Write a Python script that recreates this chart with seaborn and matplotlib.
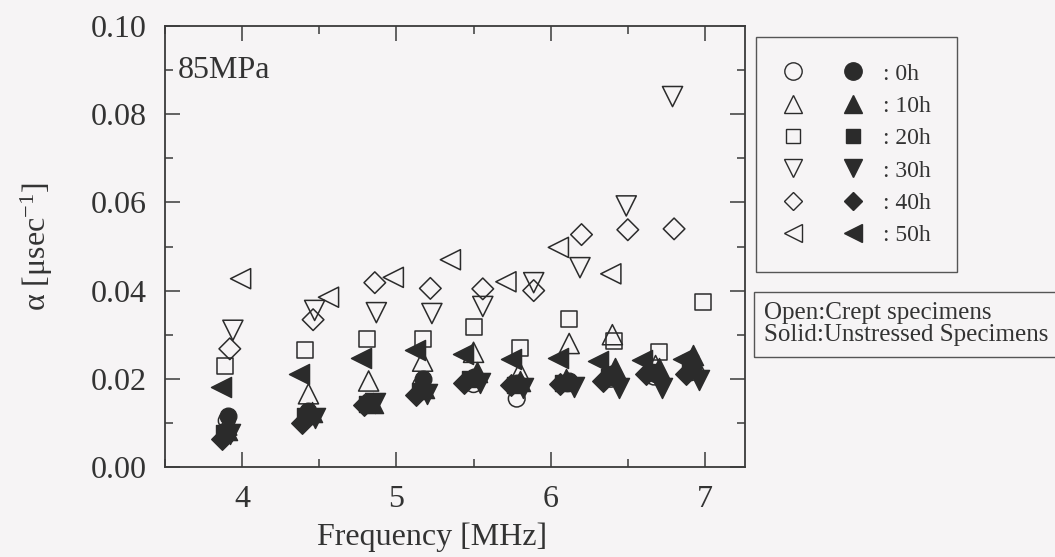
import matplotlib
matplotlib.use("Agg")
import matplotlib.pyplot as plt
import seaborn as sns
from matplotlib.lines import Line2D
from matplotlib.legend_handler import HandlerTuple
from matplotlib.ticker import MultipleLocator, FormatStrFormatter

# ---- data: frequency [MHz] and attenuation alpha [1/usec] -----------------
# Crept specimens (open symbols)
crept_0h_f = [3.90, 4.42, 4.82, 5.16, 5.50, 5.78, 6.11, 6.39, 6.67, 6.91]
crept_0h_a = [0.0105, 0.0120, 0.0145, 0.0185, 0.0188, 0.0155, 0.0190, 0.0200, 0.0205, 0.0215]
crept_10h_f = [3.90, 4.43, 4.82, 5.17, 5.50, 5.80, 6.12, 6.40, 6.68, 6.93]
crept_10h_a = [0.0095, 0.0166, 0.0195, 0.0240, 0.0260, 0.0215, 0.0280, 0.0300, 0.0230, 0.0240]
crept_20h_f = [3.89, 4.41, 4.81, 5.17, 5.50, 5.80, 6.12, 6.41, 6.70, 6.99]
crept_20h_a = [0.0230, 0.0266, 0.0290, 0.0290, 0.0318, 0.0270, 0.0336, 0.0286, 0.0260, 0.0375]
crept_30h_f = [3.94, 4.47, 4.87, 5.23, 5.56, 5.89, 6.19, 6.49, 6.79]
crept_30h_a = [0.0310, 0.0355, 0.0350, 0.0348, 0.0364, 0.0418, 0.0452, 0.0592, 0.0840]
crept_40h_f = [3.92, 4.46, 4.86, 5.22, 5.56, 5.89, 6.20, 6.50, 6.80]
crept_40h_a = [0.0268, 0.0334, 0.0418, 0.0405, 0.0404, 0.0400, 0.0527, 0.0538, 0.0540]
crept_50h_f = [3.99, 4.56, 4.98, 5.35, 5.71, 6.05, 6.39]
crept_50h_a = [0.0427, 0.0385, 0.0430, 0.0470, 0.0420, 0.0498, 0.0438]

# Unstressed specimens (solid symbols)
ref_0h_f = [3.91, 4.43, 4.83, 5.17, 5.50, 5.78, 6.12, 6.40, 6.68, 6.92]
ref_0h_a = [0.0116, 0.0128, 0.0148, 0.0200, 0.0205, 0.0190, 0.0195, 0.0210, 0.0210, 0.0222]
ref_10h_f = [3.90, 4.45, 4.85, 5.18, 5.52, 5.80, 6.10, 6.42, 6.70, 6.92]
ref_10h_a = [0.0085, 0.0125, 0.0145, 0.0180, 0.0215, 0.0195, 0.0200, 0.0225, 0.0225, 0.0255]
ref_20h_f = [3.88, 4.41, 4.81, 5.15, 5.48, 5.77, 6.08, 6.38, 6.66, 6.90]
ref_20h_a = [0.0078, 0.0115, 0.0142, 0.0172, 0.0200, 0.0185, 0.0190, 0.0205, 0.0215, 0.0235]
ref_30h_f = [3.92, 4.47, 4.86, 5.20, 5.54, 5.82, 6.15, 6.44, 6.72, 6.96]
ref_30h_a = [0.0075, 0.0112, 0.0145, 0.0165, 0.0190, 0.0178, 0.0182, 0.0180, 0.0180, 0.0198]
ref_40h_f = [3.87, 4.39, 4.79, 5.13, 5.44, 5.74, 6.06, 6.34, 6.62, 6.88]
ref_40h_a = [0.0064, 0.0100, 0.0140, 0.0163, 0.0190, 0.0185, 0.0188, 0.0195, 0.0210, 0.0212]
ref_50h_f = [3.86, 4.37, 4.77, 5.12, 5.43, 5.74, 6.05, 6.31, 6.59, 6.86]
ref_50h_a = [0.0182, 0.0211, 0.0248, 0.0266, 0.0257, 0.0245, 0.0248, 0.0240, 0.0243, 0.0245]

hours = ["0h", "10h", "20h", "30h", "40h", "50h"]
x_ticks = [4, 5, 6, 7]

# ---- styling ---------------------------------------------------------------
BG = "#f6f4f5"
INK = "#2b2b2b"
AXC = "#3a3a3a"
TXT = "#333333"
markers = ["o", "^", "s", "v", "D", "<"]
plot_ms = {"o": 12.0, "^": 14.5, "v": 14.5, "<": 14.5, "s": 11.5, "D": 11.0}
leg_ms = {"o": 12.5, "^": 13.0, "v": 13.0, "<": 13.0, "s": 9.5, "D": 9.5}

sns.set_style("ticks")
plt.rcParams["font.family"] = ["Liberation Serif", "DejaVu Serif"]
plt.rcParams["mathtext.fontset"] = "custom"
plt.rcParams["mathtext.rm"] = "Liberation Serif"
plt.rcParams["mathtext.it"] = "Liberation Serif:italic"

fig = plt.figure(figsize=(10.55, 5.57), dpi=100, facecolor=BG)
ax = fig.add_axes([0.1564, 0.1616, 0.5498, 0.7917])
ax.set_facecolor(BG)

crept = [(crept_0h_f, crept_0h_a), (crept_10h_f, crept_10h_a), (crept_20h_f, crept_20h_a),
         (crept_30h_f, crept_30h_a), (crept_40h_f, crept_40h_a), (crept_50h_f, crept_50h_a)]
unstressed = [(ref_0h_f, ref_0h_a), (ref_10h_f, ref_10h_a), (ref_20h_f, ref_20h_a),
              (ref_30h_f, ref_30h_a), (ref_40h_f, ref_40h_a), (ref_50h_f, ref_50h_a)]

# open symbols first, solid symbols drawn over them
for (f, a), m in zip(crept, markers):
    sns.scatterplot(x=f, y=a, ax=ax, marker=m, s=plot_ms[m] ** 2,
                    facecolors="none", edgecolor=INK, linewidth=1.1,
                    zorder=3, legend=False)
for (f, a), m in zip(unstressed, markers):
    sns.scatterplot(x=f, y=a, ax=ax, marker=m, s=plot_ms[m] ** 2,
                    color=INK, edgecolor=INK, linewidth=1.0,
                    zorder=4, legend=False)

ax.set_xlim(3.5, 7.26)
ax.set_ylim(0.0, 0.10)
ax.set_xticks(x_ticks)
ax.xaxis.set_minor_locator(MultipleLocator(0.5))
ax.yaxis.set_major_locator(MultipleLocator(0.02))
ax.yaxis.set_minor_locator(MultipleLocator(0.01))
ax.yaxis.set_major_formatter(FormatStrFormatter("%.2f"))

for sp in ax.spines.values():
    sp.set_visible(True)
    sp.set_color(AXC)
    sp.set_linewidth(1.3)

ax.tick_params(which="both", direction="in", top=True, right=True,
               color=AXC, labelcolor=TXT, labelsize=23)
ax.tick_params(which="major", length=11, width=1.1, pad=13)
ax.tick_params(which="minor", length=6, width=1.1)

ax.set_xlabel("Frequency [MHz]", fontsize=23, color=TXT)
ax.set_ylabel(r"α [μsec$^{-1}$]", fontsize=23, color=TXT)
ax.xaxis.set_label_coords(0.46, -0.125)
ax.yaxis.set_label_coords(-0.19, 0.5)

ax.text(0.022, 0.09, "85MPa", transform=ax.get_yaxis_transform(),
        fontsize=23, color=TXT, ha="left", va="center")

# symbol key: open / solid pairs
handles = []
for m in markers:
    o = Line2D([], [], ls="none", marker=m, ms=leg_ms[m], mfc="none", mec=INK, mew=1.0)
    s = Line2D([], [], ls="none", marker=m, ms=leg_ms[m], mfc=INK, mec=INK, mew=1.0)
    handles.append((o, s))
leg = ax.legend(handles, [": " + h for h in hours],
                handler_map={tuple: HandlerTuple(ndivide=None, pad=1.61)},
                loc="upper left", bbox_to_anchor=(756 / 1055, 1 - 37 / 557),
                bbox_transform=fig.transFigure, frameon=True, fancybox=False,
                edgecolor="#555555", facecolor=BG, framealpha=1,
                handlelength=3.47, handletextpad=0.8, labelspacing=0.46,
                borderpad=1.1, borderaxespad=0, fontsize=17)
leg.get_frame().set_linewidth(1.0)
for t in leg.get_texts():
    t.set_color(TXT)

fig.text(764 / 1055, 1 - 324 / 557, "Open:Crept specimens\nSolid:Unstressed Specimens",
         fontsize=18, color=TXT, ha="left", va="center", linespacing=1.0,
         bbox=dict(boxstyle="square,pad=0.42", fc="none", ec="#555555", lw=1.0))

fig.savefig("out.png", dpi=100, facecolor=BG)
